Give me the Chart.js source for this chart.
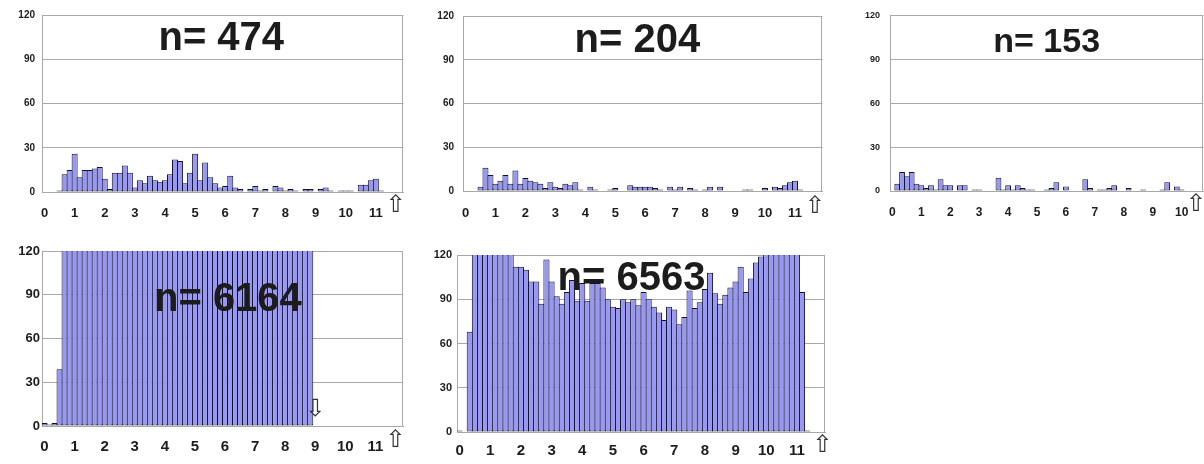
<!DOCTYPE html>
<html><head><meta charset="utf-8">
<script src="https://cdn.jsdelivr.net/npm/chart.js@4"></script>
<style>
html,body{margin:0;padding:0;background:#fff;overflow:hidden;width:1204px;height:464px;position:relative;}
canvas{position:absolute;display:block;}
</style></head><body>
<canvas id="c1" width="415" height="230" style="left:0px;top:0px;width:415px;height:230px"></canvas>
<canvas id="c2" width="420" height="230" style="left:415px;top:0px;width:420px;height:230px"></canvas>
<canvas id="c3" width="380" height="230" style="left:835px;top:0px;width:380px;height:230px"></canvas>
<canvas id="c4" width="415" height="232" style="left:0px;top:232px;width:415px;height:232px"></canvas>
<canvas id="c5" width="420" height="232" style="left:415px;top:232px;width:420px;height:232px"></canvas>
<script>
// ---- data ----
const tickLabels = ['0','1','2','3','4','5','6','7','8','9','10','11'];
const yTicks = [0, 30, 60, 90, 120];
const titles = ['n= 474', 'n= 204', 'n= 153', 'n= 6164', 'n= 6563'];

const counts474 = [0,0,0,
 1,12,15,26,10,15,15,16,17,9,2,13,13,18,13,3,8,6,11,8,7,8,12,22,21,6,13,26,8,20,10,6,3,4,11,3,2,0,2,4,1,2,0,4,3,1,2,1,0,2,2,0,2,3,1,0,1,1,1,0,5,5,8,9,1,
 0,0,0,0];

const counts204 = [0,0,0,
 3,16,11,5,7,11,5,14,5,9,7,6,5,2,6,3,2,5,4,6,1,
 0,3,1,0,0,1,2,0,0,
 4,3,3,3,3,2,1,0,
 3,1,3,0,2,1,0,1,3,0,3,
 0,0,0,0,1,1,0,0,
 2,0,3,2,4,6,7,1,
 0,0,0,0];

const counts153 = [0,
 5,13,10,13,5,4,2,4,1,8,4,4,0,4,4,0,1,1,0,0,0,
 9,1,4,1,4,2,1,1,0,0,1,2,6,0,3,0,0,0,8,2,0,1,1,2,4,0,0,2,0,0,1,0,0,0,1,6,0,3,1,
 0,0,0,0];

const counts6164 = [2,1,2,39,
 123,121,124,122,125,121,123,122,124,121,122,123,121,124,122,121,123,122,125,121,
 122,124,121,123,122,121,124,122,123,121,122,123,124,121,122,123,121,122,124,123,
 121,122,123,121,124,122,121,123,122,121,
 0,0,0,0,0,0,0,0,0,0,0,0,0,0,0,0,0,0];

const counts6563 = [1,0,68,
 125,128,126,124,127,125,123,122,
 112,112,110,102,102,87,117,102,92,87,95,103,89,101,89,101,101,98,90,85,84,90,88,90,86,95,90,85,81,76,85,83,73,78,96,84,88,97,108,94,87,93,98,102,112,95,104,115,
 119,121,123,126,128,125,124,122,
 95,1,0,0,0];

// ---- styling / layout ----
const BAR_FILL = '#9898f0';
const BAR_EDGE = '#101030';
const GRID = '#a8a8a8';
const TXT = '#1c1c1c';
const FONT = "'Liberation Sans', Arial, sans-serif";

function catLabels(n){
  const out = [];
  for (let i = 0; i < n; i++) out.push(i % 6 === 0 && tickLabels[i/6] !== undefined ? tickLabels[i/6] : '');
  return out;
}

const panels = [
  {id:'c1', data:counts474, title:titles[0], yW:42, padT:15, padR:10, xH:38, yFont:10, xFont:13, yPad:7, xPad:14, tFont:40, tx:0.496, ty:0.135, arrows:[{i:70,ch:'\u21E7',dy:14}]},
  {id:'c2', data:counts204, title:titles[1], yW:48, padT:16, padR:7, xH:39, yFont:10, xFont:13, yPad:9, xPad:15, tFont:40, tx:0.485, ty:0.14, arrows:[{i:70,ch:'\u21E7',dy:16}]},
  {id:'c3', data:counts153, title:titles[2], yW:55, padT:15, padR:8, xH:39, yFont:9, xFont:12, yPad:10, xPad:14, tFont:34, tx:0.5, ty:0.155, arrows:[{i:63,ch:'\u21E7',dy:14}]},
  {id:'c4', data:counts6164, title:titles[3], yW:42, padT:19, padR:12, xH:38, yFont:13, xFont:15, yPad:2, xPad:12, tFont:40, tx:0.515, ty:0.28, arrows:[{i:70,ch:'\u21E7',dy:15},{i:54,ch:'\u21E9',dy:-16}]},
  {id:'c5', data:counts6563, title:titles[4], yW:42, padT:23, padR:10, xH:32, yFont:11, xFont:15, yPad:5, xPad:10, tFont:40, tx:0.474, ty:0.135, arrows:[{i:71,ch:'\u21E7',dy:14}]}
];

const deco = {
  id: 'deco',
  beforeDatasetsDraw(chart){
    const a = chart.chartArea, c = chart.ctx;
    c.save();
    c.strokeStyle = GRID; c.lineWidth = 1;
    c.strokeRect(Math.round(a.left)+0.5, Math.round(a.top)+0.5, Math.round(a.right-a.left)-1, Math.round(a.bottom-a.top));
    c.restore();
  },
  afterDraw(chart){
    const P = chart.options.plugins.deco;
    const a = chart.chartArea, c = chart.ctx;
    c.save();
    c.fillStyle = TXT;
    c.font = 'bold ' + P.tFont + 'px ' + FONT;
    c.textAlign = 'center'; c.textBaseline = 'middle';
    c.fillText(P.title, a.left + P.tx*(a.right-a.left), a.top + P.ty*(a.bottom-a.top));
    const xs = chart.scales.x;
    c.font = '24px "DejaVu Sans"';
    c.fillStyle = '#333';
    for (const ar of P.arrows){
      const x = xs.getPixelForValue(ar.i);
      c.fillText(ar.ch, x, a.bottom + ar.dy);
    }
    c.restore();
  }
};

for (const P of panels){
  const n = P.data.length;
  new Chart(document.getElementById(P.id), {
    type: 'bar',
    data: {
      labels: catLabels(n),
      datasets: [{
        data: P.data,
        backgroundColor: BAR_FILL,
        borderColor: BAR_EDGE,
        borderWidth: 1,
        borderSkipped: false,
        barPercentage: 1.2,
        categoryPercentage: 1.0
      }]
    },
    options: {
      responsive: false,
      animation: false,
      events: [],
      layout: {padding: {top: P.padT, right: P.padR, left: 0, bottom: 0}},
      plugins: {
        legend: {display: false},
        tooltip: {enabled: false},
        title: {display: false},
        deco: P
      },
      scales: {
        x: {
          offset: true,
          grid: {display: false, drawTicks: false},
          border: {display: true, color: GRID, width: 1},
          ticks: {autoSkip: false, maxRotation: 0, minRotation: 0, padding: P.xPad, color: TXT,
                  font: {family: FONT, size: P.xFont, weight: 'bold'}},
          afterFit(s){ s.height = P.xH; }
        },
        y: {
          min: yTicks[0], max: yTicks[yTicks.length-1],
          afterBuildTicks(s){ s.ticks = yTicks.map(v => ({value: v})); },
          grid: {color: GRID, drawTicks: false},
          border: {display: true, color: GRID, width: 1},
          ticks: {padding: P.yPad, color: TXT, font: {family: FONT, size: P.yFont, weight: 'bold'}},
          afterFit(s){ s.width = P.yW; }
        }
      }
    },
    plugins: [deco]
  });
}
</script>
</body></html>
